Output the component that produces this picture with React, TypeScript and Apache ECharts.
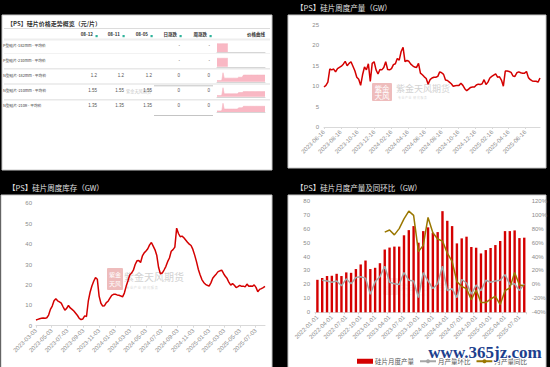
import React, { useEffect, useRef } from 'react';
import * as echarts from 'echarts';

// ---------------- data ----------------
const weeklyOutputStart = '2023-06-16';
const weeklyOutputEnd = '2025-08-08';
const weeklyOutput = [
  9.8, 10.2, 11.0, 14.2, 14.0, 14.2, 13.5, 14.3, 14.6, 14.9,
  15.4, 16.1, 15.0, 15.6, 16.0, 14.9, 13.8, 12.2, 11.7, 10.2,
  12.8, 14.7, 14.0, 15.5, 11.2, 15.6, 16.0, 14.0, 13.0, 14.1,
  14.0, 14.6, 16.0, 14.1, 14.0, 14.3, 15.3, 15.5, 16.8, 16.4,
  18.5, 19.5, 16.0, 16.3, 16.1, 15.4, 15.0, 14.7, 14.6, 15.6,
  13.2, 12.8, 12.3, 11.9, 10.5, 11.6, 12.0, 12.2, 12.2, 12.4,
  13.5, 13.3, 12.9, 11.5, 11.4, 11.0, 10.6, 10.0, 10.1, 10.2,
  10.2, 10.7, 10.2, 9.4, 8.9, 9.3, 9.7, 9.8, 9.8, 10.3,
  10.5, 10.4, 10.6, 11.6, 10.4, 11.0, 12.0, 12.4, 12.7, 13.0,
  12.2, 12.3, 11.5, 10.0, 13.7, 13.7, 13.6, 13.4, 12.5, 12.4,
  13.3, 13.5, 13.3, 13.2, 13.2, 13.6, 12.1, 11.6, 11.3, 11.2,
  11.2, 11.0, 12.0,
];
const weeklyOutputLabels = [
  '2023-06-16', '2023-08-16', '2023-10-16', '2023-12-16', '2024-02-16', '2024-04-16', '2024-06-16',
  '2024-08-16', '2024-10-16', '2024-12-16', '2025-02-16', '2025-04-16', '2025-06-16',
];

const inventoryStart = '2023-03-03';
const inventoryEnd = '2025-08-08';
const inventory = [
  2.8, 3.1, 3.4, 3.6, 3.8, 3.6, 3.9, 5.2, 8.0, 9.6,
  12.2, 13.2, 12.2, 11.7, 11.1, 9.3, 7.6, 8.5, 9.9, 8.7,
  8.0, 7.2, 6.1, 5.0, 3.6, 3.0, 3.3, 4.8, 4.5, 12.0,
  16.4, 19.5, 21.8, 23.6, 22.8, 14.5, 11.0, 9.6, 9.8, 11.3,
  12.0, 13.5, 14.9, 15.4, 15.4, 15.1, 14.9, 14.6, 14.1, 16.0,
  19.3, 22.0, 24.9, 25.8, 27.2, 30.0, 31.8, 32.0, 31.0, 34.2,
  35.7, 36.6, 37.7, 39.6, 40.8, 39.0, 37.2, 34.4, 28.5, 25.5,
  25.8, 27.3, 29.0, 31.4, 33.2, 36.5, 37.3, 38.5, 47.8, 45.2,
  43.6, 43.9, 43.1, 42.0, 40.9, 40.0, 39.3, 37.4, 34.6, 31.4,
  27.7, 25.0, 22.6, 21.2, 20.3, 19.8, 19.4, 21.0, 23.3, 24.4,
  25.4, 26.5, 26.9, 27.2, 25.6, 24.2, 23.1, 21.2, 19.9, 20.6,
  19.8, 18.7, 19.2, 19.8, 19.3, 19.4, 19.0, 20.4, 19.3, 19.5,
  19.3, 20.0, 18.8, 16.6, 17.8, 18.2, 18.7, 19.3,
];
const inventoryLabels = [
  '2023-03-03', '2023-05-03', '2023-07-03', '2023-09-03', '2023-11-03', '2024-01-03', '2024-03-03', '2024-05-03',
  '2024-07-03', '2024-09-03', '2024-11-03', '2025-01-03', '2025-03-03', '2025-05-03', '2025-07-03',
];

const months = [
  '2022-01-01', '2022-02-01', '2022-03-01', '2022-04-01', '2022-05-01', '2022-06-01', '2022-07-01', '2022-08-01',
  '2022-09-01', '2022-10-01', '2022-11-01', '2022-12-01', '2023-01-01', '2023-02-01', '2023-03-01', '2023-04-01',
  '2023-05-01', '2023-06-01', '2023-07-01', '2023-08-01', '2023-09-01', '2023-10-01', '2023-11-01', '2023-12-01',
  '2024-01-01', '2024-02-01', '2024-03-01', '2024-04-01', '2024-05-01', '2024-06-01', '2024-07-01', '2024-08-01',
  '2024-09-01', '2024-10-01', '2024-11-01', '2024-12-01', '2025-01-01', '2025-02-01', '2025-03-01', '2025-04-01',
  '2025-05-01', '2025-06-01', '2025-07-01', '2025-08-01',
];
const monthlyOutput = [
  23.3, 24.6, 26.0, 26.2, 27.6, 26.0, 28.6, 28.3, 31.0, 34.3,
  37.1, 31.0, 31.9, 35.2, 45.0, 46.4, 47.1, 47.1, 55.2, 58.9,
  61.8, 49.9, 58.2, 60.9, 57.0, 57.5, 72.5, 65.6, 61.8, 49.4,
  53.0, 54.2, 46.8, 46.3, 42.2, 44.6, 46.1, 48.2, 51.1, 58.2,
  58.2, 58.7, 53.2, 53.5,
];
const momPct = [
  null, 6, 5, 3, 5, -2, 8, 1, 10, 11,
  9, -14, 4, 11, 26, 3, 1, 0, 17, 6,
  5, -19, 17, 5, -6, 1, 26, -9, -6, -19,
  7, 2, -14, -1, -9, 6, 3, 5, 6, 14,
  0, 1, -9, 1,
];
const yoyPct = [
  null, null, null, null, null, null, null, null, null, null,
  null, null, null, null, 75, 78, 71, 80, 94, 105,
  99, 47, 56, 96, 74, 65, 62, 45, 33, 4,
  -3, -6, -22, -8, -26, -26, -21, -17, -29, -9,
  -5, 17, -1, -2,
];

const tableTitle = '【PS】硅片价格走势概览（元/片）';
const tableHeaders = ['08-12', '08-11', '08-05', '日涨跌', '周涨跌'];
const curveHeader = '价格曲线';
const productNames = [
  'P型硅片-182mm - 平均价',
  'P型硅片-210mm - 平均价',
  'N型硅片-182mm - 平均价',
  'N型硅片-210mm - 平均价',
  'N型硅片-210R - 平均价',
];
const priceRows = [
  ['', '', '', '-', '-'],
  ['', '', '', '-', '-'],
  ['1.2', '1.2', '1.2', '0', '0'],
  ['1.55', '1.55', '1.55', '0', '0'],
  ['1.35', '1.35', '1.35', '0', '0'],
];
const sparkLines = [
  [1, 1, 1, 1, 1, 1, 1, 1, 1, 1, null, null, null, null, null, null, null, null, null, null, null, null, null, null, null, null, null, null, null, null, null, null, null, null, null, null, null, null, null, null, null],
  [1, 1, 1, 1, 1, 1, 1, 1, 1, 1, null, null, null, null, null, null, null, null, null, null, null, null, null, null, null, null, null, null, null, null, null, null, null, null, null, null, null, null, null, null, null],
  [0.4, 0.4, 0.4, 0.4, 0.5, 3.0, 1.2, 1.2, 1.2, 1.2, 1.2, 1.2, 1.2, 1.2, 1.2, 1.2, 1.2, 1.2, 1.5, 1.5, 1.5, 1.5, 2.2, 2.2, 2.2, 2.2, 2.2, 2.2, 2.2, 2.2, 2.2, 2.2, 2.2, 2.2, 2.2, 2.2, 2.2, 2.2, 2.2, 2.2, 2.2],
  [0.4, 0.4, 0.4, 0.4, 0.5, 3.0, 1.0, 1.0, 1.0, 1.0, 1.0, 1.0, 1.0, 1.0, 1.0, 1.0, 1.0, 1.0, 1.4, 1.4, 1.4, 1.4, 1.7, 1.7, 1.7, 1.7, 1.7, 1.7, 1.7, 1.7, 1.7, 1.7, 1.7, 1.7, 1.7, 1.7, 1.7, 1.7, 1.7, 1.7, 1.7],
  [0.4, 0.4, 0.4, 0.4, 0.5, 2.9, 1.0, 1.0, 1.0, 1.0, 1.0, 1.0, 1.0, 1.0, 1.0, 1.0, 1.0, 1.0, 1.4, 1.4, 1.4, 1.4, 1.9, 1.9, 1.9, 1.9, 1.9, 1.9, 1.9, 1.9, 1.9, 1.9, 1.9, 1.9, 1.9, 1.9, 1.9, 1.9, 1.9, 1.9, 1.9],
];

// ---------------- helpers ----------------
const DAY = 86400000;
const dayOf = (s: string) => {
  const [y, m, d] = s.split('-').map(Number);
  return Math.round(Date.UTC(y, m - 1, d) / DAY);
};
const pad = (n: number) => (n < 10 ? '0' : '') + n;
const dateOf = (v: number) => {
  const dt = new Date(Math.round(v) * DAY);
  return `${dt.getUTCFullYear()}-${pad(dt.getUTCMonth() + 1)}-${pad(dt.getUTCDate())}`;
};
const weekly = (start: string, vals: number[]) => vals.map((v, i) => [dayOf(start) + 7 * i, v]);

const SANS = 'Liberation Sans, Noto Sans CJK SC, sans-serif';
const CJK = 'Noto Sans CJK SC, sans-serif';
const RED = '#d40000';
const lbl = { color: '#8c8c8c', fontSize: 6, fontFamily: SANS };

function timeAxis(gridIndex: number, start: string, end: string, labels: string[]) {
  const vals = labels.map(dayOf);
  return {
    type: 'value',
    gridIndex,
    min: dayOf(start),
    max: dayOf(end),
    axisLine: { show: true, lineStyle: { color: '#d9d9d9', width: 1 } },
    axisTick: { show: true, customValues: vals, length: 2, lineStyle: { color: '#d9d9d9' } },
    axisLabel: { ...lbl, customValues: vals, rotate: 45, margin: 4, formatter: (v: number) => dateOf(v) },
    splitLine: { show: false },
  };
}

function valueAxis(gridIndex: number, min: number, max: number, interval: number, margin: number, fmt?: string, position?: string) {
  return {
    type: 'value',
    gridIndex,
    min,
    max,
    interval,
    position,
    axisLine: { show: false },
    axisTick: { show: false },
    splitLine: { show: false },
    axisLabel: { ...lbl, margin, formatter: fmt },
  };
}

const sparkTops = [43, 57.5, 72.5, 87.5, 102.8];
const sparkMax = [1.08, 1.08, 3.05, 3.05, 3.05];
const rowY = [45, 60, 75, 90, 105];
const colRight = [97, 124, 152, 180, 210];
const headRight = [93, 120, 148, 177, 207];

function tx(text: string, x: number, y: number, fontSize: number, fill: string, align = 'left', extra: any = {}) {
  return {
    type: 'text',
    z: extra.z ?? 1,
    style: {
      text, x, y, fill, fontSize, fontFamily: extra.fontFamily ?? CJK,
      fontWeight: extra.fontWeight ?? 'normal',
      textAlign: align, textVerticalAlign: 'middle',
      stroke: extra.stroke, lineWidth: extra.lineWidth,
      opacity: extra.opacity ?? 1,
    },
  };
}
function hline(x1: number, x2: number, y: number, color: string, w = 1) {
  return { type: 'line', z: 1, shape: { x1, y1: y, x2, y2: y }, style: { stroke: color, lineWidth: w } };
}
function watermark(lx: number, ly: number, lw: number, lh: number, tx0: number, ty: number, fs: number, op: number) {
  return [
    { type: 'rect', z: 1, shape: { x: lx, y: ly, width: lw, height: lh, r: 1 }, style: { fill: '#eebcbc', opacity: op } },
    tx('紫金', lx + lw / 2, ly + lh * 0.3, lw * 0.38, '#ffffff', 'center', { opacity: op }),
    tx('天风', lx + lw / 2, ly + lh * 0.72, lw * 0.38, '#ffffff', 'center', { opacity: op }),
    tx('紫金天风期货', tx0, ty, fs, '#d2d2d2', 'left', { opacity: op }),
    tx('专 业 产 业   研 究 服 务', tx0 + 2, ty + fs * 1.05, fs * 0.32, '#d8d8d8', 'left', { opacity: op }),
  ];
}

function buildOption() {
  const graphic: any[] = [
    // panels
    { type: 'rect', z: -1, shape: { x: 2, y: 15, width: 270, height: 155 }, style: { fill: '#fff', stroke: '#c8c8c8', lineWidth: 1 } },
    { type: 'rect', z: -1, shape: { x: 288, y: 15, width: 258, height: 153 }, style: { fill: '#fff', stroke: '#c8c8c8', lineWidth: 1 } },
    { type: 'rect', z: -1, shape: { x: 1, y: 195, width: 271, height: 175 }, style: { fill: '#fff', stroke: '#c8c8c8', lineWidth: 1 } },
    { type: 'rect', z: -1, shape: { x: 288, y: 195, width: 258, height: 175 }, style: { fill: '#fff', stroke: '#c8c8c8', lineWidth: 1 } },
    // titles in black strips
    tx('【PS】硅片周度产量（GW）', 296, 7.5, 7.5, '#e2e2e2'),
    tx('【PS】硅片周度库存（GW）', 8, 187.5, 7.5, '#e2e2e2'),
    tx('【PS】硅片月度产量及同环比（GW）', 296, 187.5, 7.5, '#e2e2e2'),
    // table
    tx(tableTitle, 7, 23, 6, '#333', 'left', { fontWeight: 'bold' }),
    hline(4, 270, 28.5, '#dcdcdc', 1),
    tx(curveHeader, 265, 34, 4.5, '#333', 'right', { fontWeight: 'bold' }),
    hline(4, 270, 39.5, '#eeeeee', 2),
    hline(4, 270, 53.5, '#f2f2f2', 1),
    hline(4, 270, 68.8, '#e8e8e8', 1.5),
    hline(4, 270, 84, '#e8e8e8', 1.5),
    hline(4, 270, 99.8, '#e8e8e8', 1.5),
    hline(154, 213, 85.8, '#c4c4c4', 1),
    hline(154, 213, 115.5, '#c4c4c4', 1),
    tx('紫金天风期货', 126, 90.5, 4.2, '#c8c8c8'),
    // watermarks
    ...watermark(372, 83, 20, 18, 396, 88.5, 9, 1),
    ...watermark(107, 268, 16, 22, 124, 276.5, 10, 1),
    ...watermark(383, 278, 15, 17, 400, 286, 8.5, 0.35),
    // site watermark
    tx('www.365jz.com', 485, 352, 17, '#1d3f8e', 'center', { fontFamily: 'Liberation Serif, serif', fontWeight: 'bold', stroke: '#ffffff', lineWidth: 2, z: 100 }),
  ];
  tableHeaders.forEach((h, i) => {
    graphic.push(tx(h, headRight[i], 34, 4.5, '#333', 'right', { fontWeight: 'bold' }));
    graphic.push({ type: 'rect', z: 1, shape: { x: headRight[i] + 2.5, y: 35, width: 2.2, height: 2.2 }, style: { fill: '#2fb39b' } });
  });
  productNames.forEach((n, r) => {
    graphic.push(tx(n, 3, rowY[r], 3.8, '#333'));
    priceRows[r].forEach((v, c) => {
      if (v) graphic.push(tx(v, colRight[c], rowY[r], 4.5, '#555', 'right', { fontFamily: SANS }));
    });
  });

  const grids: any[] = [
    { left: 324, top: 25, width: 216, height: 102 },
    { left: 36, top: 203.3, width: 229, height: 122.4 },
    { left: 315, top: 200.7, width: 213, height: 111.6 },
    ...sparkTops.map((t) => ({ left: 217, top: t, width: 48, height: 9.3 })),
  ];

  const sparkIdx = sparkLines[0].map((_, i) => String(i));

  const xAxis: any[] = [
    timeAxis(0, weeklyOutputStart, weeklyOutputEnd, weeklyOutputLabels),
    timeAxis(1, inventoryStart, inventoryEnd, inventoryLabels),
    {
      type: 'category', gridIndex: 2, data: months,
      axisLine: { show: true, lineStyle: { color: '#d9d9d9' } },
      axisTick: { show: true, interval: 2, length: 2, lineStyle: { color: '#d9d9d9' } },
      axisLabel: { ...lbl, interval: 2, rotate: 45, margin: 4 },
      splitLine: { show: false },
    },
    ...sparkTops.map((_, r) => ({
      type: 'category', gridIndex: 3 + r, data: sparkIdx, boundaryGap: false,
      axisLine: { show: true, lineStyle: { color: '#d6d6d6', width: 1 } },
      axisTick: { show: false }, axisLabel: { show: false }, splitLine: { show: false },
    })),
  ];

  const yAxis: any[] = [
    valueAxis(0, 0, 25, 5, 5),
    valueAxis(1, 0, 60, 10, 4),
    valueAxis(2, 0, 80, 10, 5, undefined, 'left'),
    valueAxis(2, -40, 120, 20, 5, '{value}%', 'right'),
    ...sparkTops.map((_, r) => ({
      type: 'value', gridIndex: 3 + r, min: 0, max: sparkMax[r], show: false, splitLine: { show: false },
    })),
  ];

  const series: any[] = [
    {
      type: 'line', name: '硅片周度产量', xAxisIndex: 0, yAxisIndex: 0, data: weekly(weeklyOutputStart, weeklyOutput),
      symbol: 'none', lineStyle: { color: RED, width: 1.5 }, itemStyle: { color: RED }, z: 3,
    },
    {
      type: 'line', name: '硅片周度库存', xAxisIndex: 1, yAxisIndex: 1, data: weekly(inventoryStart, inventory),
      symbol: 'none', lineStyle: { color: RED, width: 1.5 }, itemStyle: { color: RED }, z: 3,
    },
    {
      type: 'bar', name: '硅片月度产量', xAxisIndex: 2, yAxisIndex: 2, data: monthlyOutput,
      barWidth: 2.4, itemStyle: { color: RED }, z: 2,
    },
    {
      type: 'line', name: '月产量环比', xAxisIndex: 2, yAxisIndex: 3, data: momPct,
      symbol: 'none', lineStyle: { color: '#a6a6a6', width: 1.5 }, itemStyle: { color: '#a6a6a6' }, z: 3,
    },
    {
      type: 'line', name: '月产量同比', xAxisIndex: 2, yAxisIndex: 3, data: yoyPct,
      symbol: 'none', lineStyle: { color: '#9a7700', width: 1.5 }, itemStyle: { color: '#9a7700' }, z: 3,
    },
    ...sparkLines.map((d, r) => ({
      type: 'line', xAxisIndex: 3 + r, yAxisIndex: 4 + r, data: d, symbol: 'none',
      lineStyle: { color: '#f7b3bf', width: 0.6 }, areaStyle: { color: '#f9b8c4', opacity: 1 }, z: 2,
    })),
  ];

  return {
    animation: false,
    backgroundColor: '#000000',
    textStyle: { fontFamily: SANS },
    grid: grids,
    xAxis,
    yAxis,
    series,
    graphic,
    legend: {
      data: [
        { name: '硅片月度产量', icon: 'rect' },
        { name: '月产量环比' },
        { name: '月产量同比' },
      ],
      left: 357, top: 358, padding: 0, itemWidth: 16, itemHeight: 5, itemGap: 5,
      textStyle: { fontSize: 6.5, color: '#555', fontFamily: CJK, padding: [0, 0, 0, -3] },
    },
  };
}

export default function App() {
  const ref = useRef<HTMLDivElement>(null);
  useEffect(() => {
    const chart = echarts.init(ref.current!, undefined, { renderer: 'svg', width: 550, height: 367 });
    chart.setOption(buildOption() as any);
    return () => chart.dispose();
  }, []);
  return <div ref={ref} style={{ position: 'absolute', left: 0, top: 0, width: 550, height: 367 }} />;
}
